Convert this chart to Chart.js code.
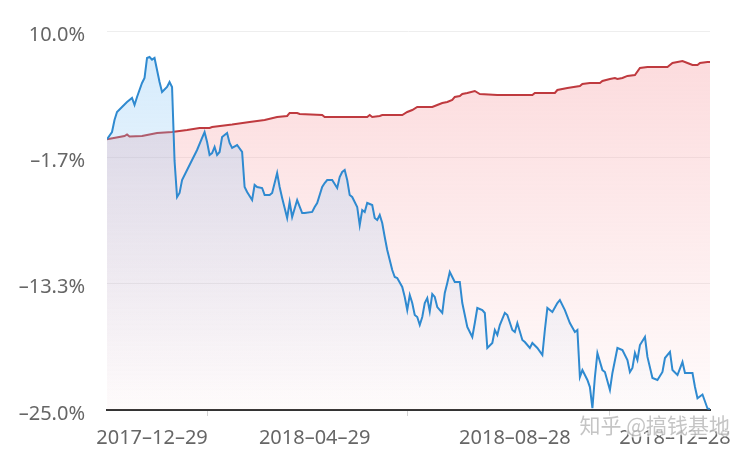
<!DOCTYPE html>
<html>
<head>
<meta charset="utf-8">
<script src="https://cdn.jsdelivr.net/npm/chart.js@4/dist/chart.umd.min.js"></script>
<style>
  body { margin: 0; background: #fff; }
  #wrap { width: 750px; height: 458px; }
</style>
</head>
<body>
<div id="wrap"><canvas id="chart"></canvas></div>
<script>
// trading day index (0 = 2017-12-29) and cumulative return in %
var fundDay = [
  0, 2, 3, 4, 6, 8, 10, 11, 12, 14,
  15, 16, 17, 18, 19, 20, 21, 22, 24, 25,
  26, 27, 28, 29, 30, 32, 34, 36, 38, 39,
  40, 41, 42, 43, 44, 45, 46, 48, 49, 50,
  52, 54, 55, 56, 58, 59, 60, 62, 63, 65,
  66, 68, 69, 70, 72, 73, 74, 76, 78, 79,
  82, 83, 84, 86, 87, 88, 90, 92, 93, 94,
  95, 96, 97, 98, 100, 101, 102, 103, 104, 106,
  107, 108, 109, 110, 111, 112, 114, 115, 116, 118,
  119, 120, 121, 122, 123, 124, 125, 126, 127, 128,
  129, 130, 131, 132, 134, 135, 136, 137, 138, 139,
  141, 142, 144, 146, 147, 148, 150, 151, 152, 154,
  155, 156, 157, 159, 160, 162, 163, 164, 166, 167,
  169, 170, 172, 174, 175, 176, 178, 180, 181, 183,
  185, 187, 188, 189, 190, 192, 193, 194, 195, 196,
  198, 199, 201, 202, 204, 206, 208, 209, 210, 211,
  212, 213, 215, 216, 218, 220, 222, 223, 225, 226,
  228, 230, 231, 234, 235, 236, 238, 240, 241
];
var fundReturn = [
  0.0, 0.67, 1.78, 2.52, 2.98, 3.44, 3.81, 3.17, 3.91, 5.20,
  5.66, 7.51, 7.60, 7.35, 7.51, 6.40, 5.29, 4.37, 4.83, 5.29,
  4.83, -2.0, -5.33, -4.96, -3.76, -2.84, -1.91, -0.99, 0.12, 0.67,
  -0.25, -1.45, -1.27, -0.71, -1.45, -1.17, 0.21, 0.58, -0.34, -0.80,
  -0.53, -1.17, -4.41, -4.87, -5.6, -4.22, -4.41, -4.50, -5.15, -5.15,
  -4.96, -3.11, -4.41, -5.42, -7.27, -5.79, -7.18, -5.61, -6.81, -6.81,
  -6.71, -6.25, -5.88, -4.41, -4.04, -3.76, -3.76, -4.50, -3.48, -3.02,
  -2.84, -3.76, -5.15, -5.33, -6.25, -7.92, -6.53, -6.71, -5.88, -6.07,
  -7.27, -7.45, -6.99, -7.73, -9.02, -10.22, -12.07, -12.72, -12.81, -13.64,
  -14.56, -15.77, -14.38, -15.12, -16.23, -16.41, -17.15, -16.41, -15.12, -14.66,
  -15.9, -14.29, -14.56, -15.49, -16.04, -14.19, -13.27, -12.26, -12.72, -13.18,
  -13.18, -15.12, -17.33, -18.26, -16.97, -15.58, -15.77, -16.04, -19.27, -18.81,
  -17.61, -18.07, -17.15, -16.04, -16.23, -17.61, -17.80, -16.97, -18.53, -18.72,
  -19.27, -18.81, -19.27, -19.92, -17.61, -15.58, -15.95, -15.12, -14.84, -15.77,
  -16.97, -17.80, -17.61, -21.95, -21.31, -22.23, -22.88, -24.82, -21.95, -19.74,
  -21.31, -21.49, -23.15, -21.58, -19.27, -19.46, -20.38, -21.49, -21.12, -19.74,
  -20.38, -19.00, -18.26, -20.10, -22.04, -22.23, -21.49, -20.20, -19.64, -21.31,
  -21.77, -20.57, -21.58, -21.58, -22.88, -23.91, -23.57, -24.86, -24.9
];
var benchDay = [
  0, 7, 8, 9, 14, 20, 26, 32, 37, 41,
  42, 50, 57, 63, 68, 72, 73, 76, 77, 86,
  87, 104, 105, 106, 109, 110, 118, 120, 122, 124,
  130, 132, 134, 136, 138, 139, 141, 142, 144, 147,
  149, 156, 170, 171, 179, 180, 184, 189, 190, 193,
  197, 198, 201, 203, 204, 206, 208, 211, 213, 216,
  224, 226, 230, 232, 234, 236, 237, 240, 241
];
var benchReturn = [
  0, 0.30, 0.45, 0.25, 0.30, 0.58, 0.67, 0.86, 1.05, 1.05,
  1.13, 1.36, 1.60, 1.78, 2.06, 2.15, 2.43, 2.43, 2.34, 2.24,
  2.06, 2.06, 2.24, 2.06, 2.15, 2.24, 2.24, 2.52, 2.70, 2.98,
  2.98, 3.17, 3.35, 3.44, 3.63, 3.91, 4.00, 4.18, 4.28, 4.46,
  4.18, 4.09, 4.09, 4.28, 4.28, 4.55, 4.74, 4.92, 5.11, 5.20,
  5.20, 5.38, 5.57, 5.66, 5.57, 5.66, 5.85, 5.94, 6.58, 6.68,
  6.68, 7.05, 7.23, 7.05, 6.86, 6.86, 7.05, 7.14, 7.14
];
var dateLabels = ['2017–12–29', '2018–04–29', '2018–08–28', '2018–12–28'];
var labelDays = [18, 83, 163, 227];
var markDays = [40, 120, 201];
var yTicks = [-25, -25 + 35 / 3, -25 + 70 / 3, 10];

function pairs(days, vals) {
  return days.map(function (d, i) { return { x: d, y: vals[i] }; });
}

function grad(chart, c, a0, a1) {
  var area = chart.chartArea;
  if (!area) return null;
  var g = chart.ctx.createLinearGradient(0, area.top, 0, area.bottom);
  g.addColorStop(0, 'rgba(' + c + ',' + a0 + ')');
  g.addColorStop(1, 'rgba(' + c + ',' + a1 + ')');
  return g;
}

var watermark = {
  id: 'watermark',
  afterDraw: function (chart) {
    var ctx = chart.ctx;
    ctx.save();
    ctx.font = '21px "Noto Sans CJK SC"';
    ctx.textAlign = 'right';
    ctx.textBaseline = 'middle';
    ctx.lineWidth = 3;
    ctx.strokeStyle = 'rgba(255,255,255,0.7)';
    ctx.strokeText('知乎 @搞钱基地', 730, 425);
    ctx.fillStyle = 'rgba(140,140,140,0.5)';
    ctx.fillText('知乎 @搞钱基地', 730, 425);
    ctx.restore();
  }
};

var chart = new Chart(document.getElementById('chart'), {
  type: 'line',
  data: {
    datasets: [{
      label: 'fund',
      data: pairs(fundDay, fundReturn),
      borderColor: '#2f8ad0',
      borderWidth: 2,
      pointRadius: 0,
      fill: 'start',
      backgroundColor: function (c) { return grad(c.chart, '130,195,245', 0.35, 0); },
      order: 0
    }, {
      label: 'benchmark',
      data: pairs(benchDay, benchReturn),
      borderColor: '#bf3a3f',
      borderWidth: 2,
      pointRadius: 0,
      fill: 'start',
      backgroundColor: function (c) { return grad(c.chart, '247,160,165', 0.4, 0.04); },
      order: 1
    }]
  },
  options: {
    responsive: true,
    maintainAspectRatio: false,
    animation: false,
    layout: { padding: { top: 31, right: 40, left: 0, bottom: 0 } },
    plugins: { legend: { display: false }, tooltip: { enabled: false } },
    scales: {
      x: {
        type: 'linear',
        min: 0,
        max: 241,
        afterBuildTicks: function (scale) {
          scale.ticks = labelDays.concat(markDays).sort(function (a, b) { return a - b; })
            .map(function (v) { return { value: v }; });
        },
        afterFit: function (scale) { scale.height = 48; },
        grid: {
          drawOnChartArea: false,
          tickLength: 6,
          tickColor: function (c) {
            return labelDays.indexOf(c.tick.value) >= 0 ? 'rgba(0,0,0,0)' : '#d4d4d4';
          }
        },
        border: { display: true, color: '#333', width: 2 },
        ticks: {
          autoSkip: false,
          maxRotation: 0,
          padding: 10,
          color: '#666',
          font: { family: 'Noto Sans', size: 20 },
          callback: function (v) {
            var j = labelDays.indexOf(v);
            return j >= 0 ? dateLabels[j] : '';
          }
        }
      },
      y: {
        min: -25,
        max: 10,
        afterBuildTicks: function (scale) {
          scale.ticks = yTicks.map(function (v) { return { value: v }; });
        },
        afterFit: function (scale) {
          scale.width = 107;
          scale.paddingTop = 0;
          scale.paddingBottom = 0;
        },
        grid: { color: '#eeeeee', drawTicks: false },
        border: { display: false },
        ticks: {
          padding: 22,
          labelOffset: 4,
          color: '#666',
          font: { family: 'Noto Sans', size: 20 },
          callback: function (v) { return v.toFixed(1).replace('-', '–') + '%'; }
        }
      }
    }
  },
  plugins: [watermark]
});
</script>
</body>
</html>
